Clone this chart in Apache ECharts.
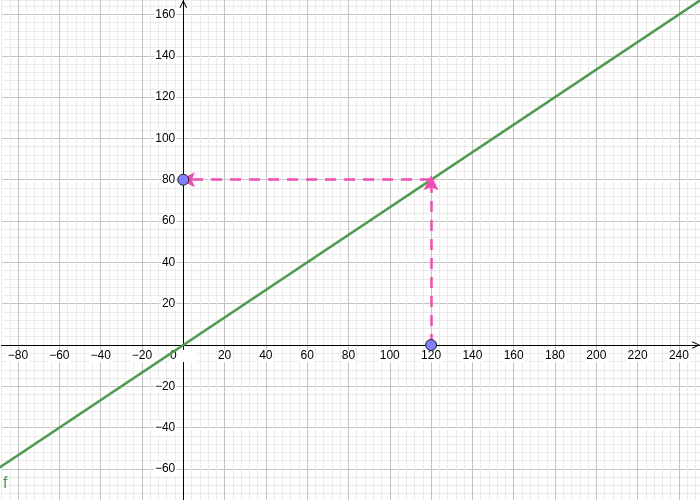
<!DOCTYPE html>
<html>
<head>
<meta charset="utf-8">
<script src="https://cdn.jsdelivr.net/npm/echarts@6/dist/echarts.min.js"></script>
<style>html,body{margin:0;padding:0;background:#fff}#c{width:700px;height:500px}</style>
</head>
<body>
<div id="c"></div>
<script>
// Data
var xRange = [-88, 250.2];
var yRange = [-76, 167];
var linePoints = [[-90, -60], [252, 168]];          // f(x) = 2/3 x
var points = [[0, 80], [120, 0]];
var vectors = [
  [[120, 0], [120, 78.5]],
  [[120, 80], [2, 80]]
];
var minorStep = 4;
var majorStep = 20;

function fmt(v) {
  var r = Math.round(v);
  if (Math.abs(v - r) > 1e-6 || r % majorStep !== 0) return '';
  if (r < 0) return '\u2212' + Math.abs(r);
  return String(r);
}

var GL = 1.5, GW = 698.5, GT = 0, GH = 502;
// pixel offsets that place the axes on the zero lines
var xZeroPx = GL + (0 - xRange[0]) / (xRange[1] - xRange[0]) * GW;
var yZeroPx = GT + (yRange[1] - 0) / (yRange[1] - yRange[0]) * GH;

var minor = '#ebebeb', major = '#c4c4c4';
var chevron = 'path://M0,10 L5,0 L10,10 L8.8,10.6 L5,2.6 L1.2,10.6 Z';
var arrowHead = 'path://M5,0 L10,12 L5,9.5 L0,12 Z';
var font = 'Liberation Sans, Arial, sans-serif';

var chart = echarts.init(document.getElementById('c'));
chart.setOption({
  animation: false,
  backgroundColor: '#fff',
  grid: { left: GL, width: GW, top: GT, height: GH, containLabel: false, outerBoundsMode: 'none' },
  xAxis: {
    type: 'value', min: xRange[0], max: xRange[1], interval: minorStep,
    position: 'bottom', offset: -(GT + GH - yZeroPx),
    axisLine: { onZero: false, lineStyle: { color: '#000', width: 1 },
      symbol: ['none', chevron], symbolSize: [9, 8], symbolOffset: [0, -4] },
    axisTick: { show: false },
    splitLine: { show: true, lineStyle: { color: [minor, minor, major, minor, minor], width: 1 } },
    axisLabel: {
      margin: 5, color: '#000', fontSize: 12, fontFamily: font,
      showMinLabel: false, showMaxLabel: false, hideOverlap: false,
      backgroundColor: '#fff', padding: [0, 1],
      formatter: function (v) {
        var s = fmt(v);
        if (s === '0') return '{z|0}';
        return s;
      },
      rich: { z: { padding: [0, 20, 0, 0], fontSize: 12, fontFamily: font, color: '#000' } }
    }
  },
  yAxis: {
    type: 'value', min: yRange[0], max: yRange[1], interval: minorStep,
    position: 'left', offset: -(xZeroPx - GL),
    axisLine: { onZero: false, lineStyle: { color: '#000', width: 1 },
      symbol: ['none', chevron], symbolSize: [9, 8], symbolOffset: [0, -4] },
    axisTick: { show: false },
    splitLine: { show: true, lineStyle: { color: [minor, minor, minor, minor, major], width: 1 } },
    axisLabel: {
      margin: 7, color: '#000', fontSize: 12, fontFamily: font,
      showMinLabel: false, showMaxLabel: false, hideOverlap: false,
      backgroundColor: '#fff', padding: [0, 1],
      formatter: function (v) { var s = fmt(v); return s === '0' ? '' : s; }
    }
  },
  graphic: [{
    type: 'text', left: 3, top: 476, z: 10,
    style: { text: 'f', fill: '#4f9a4f', font: '16px sans-serif' }
  }],
  series: [
    {
      type: 'line', data: linePoints, showSymbol: false, clip: true,
      lineStyle: { color: '#4f9a4f', width: 2.5 }, z: 3
    },
    {
      type: 'lines', coordinateSystem: 'cartesian2d', z: 4,
      data: vectors.map(function (c) { return { coords: c }; }),
      symbol: ['none', arrowHead], symbolSize: 15,
      lineStyle: { color: '#f04db4', width: 2.5, type: [11, 8], opacity: 1 }
    },
    {
      type: 'scatter', data: points, symbolSize: 11, z: 5,
      itemStyle: { color: '#7f7fff', borderColor: '#222', borderWidth: 1, opacity: 1 }
    }
  ]
});
</script>
</body>
</html>
